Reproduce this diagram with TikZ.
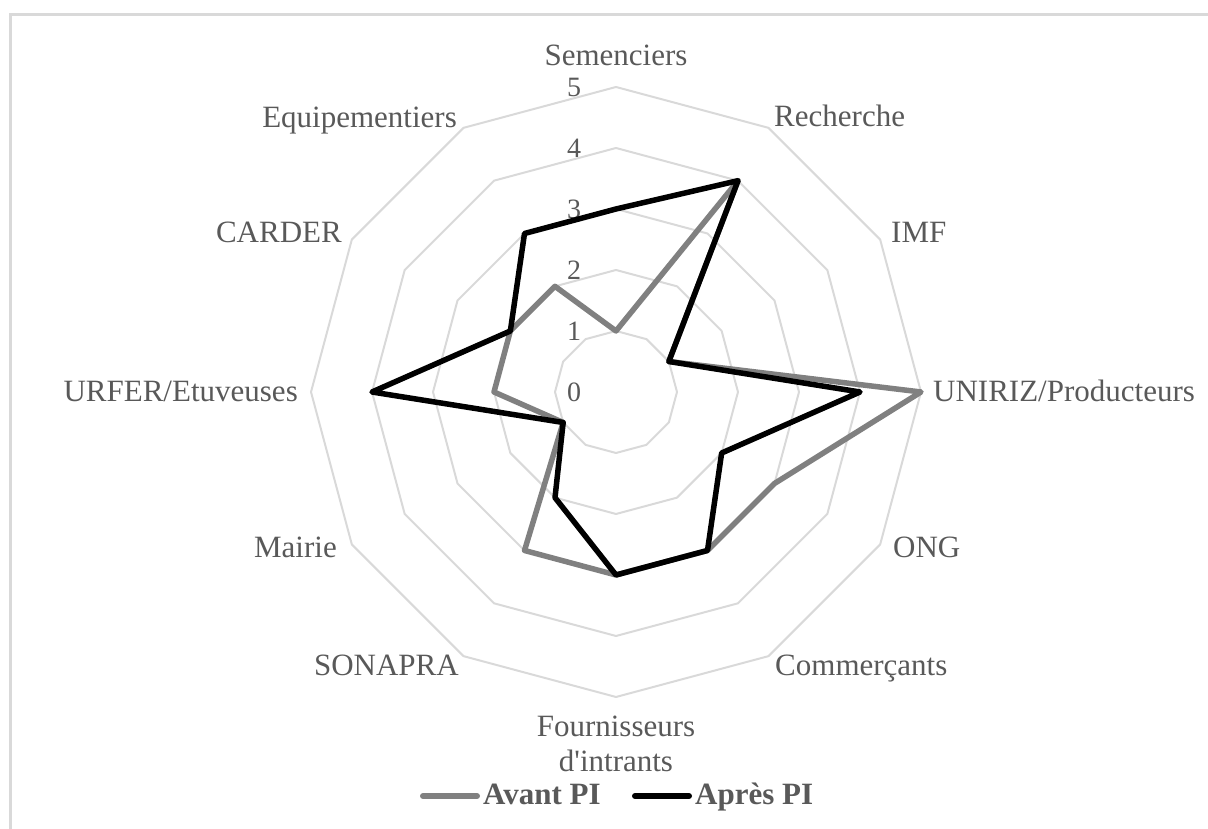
\documentclass[tikz,border=0pt]{standalone}
\usepackage{fontspec}
\newfontfamily\lab{Liberation Serif}
\definecolor{txt}{HTML}{595959}
\definecolor{gridc}{HTML}{D9D9D9}
\definecolor{avantc}{HTML}{808080}
\begin{document}
\begin{tikzpicture}[x=1pt,y=1pt,
  gridline/.style={draw=gridc,line width=2pt,line join=round},
  avant/.style={draw=avantc,line width=5.5pt,line join=round},
  apres/.style={draw=black,line width=5.5pt,line join=round},
  axlabel/.style={inner sep=0pt,text=txt,font=\lab\fontsize{31}{35}\selectfont},
  ticklabel/.style={inner sep=0pt,text=txt,font=\lab\fontsize{28}{30}\selectfont},
  legtext/.style={inner sep=0pt,text=txt,font=\lab\bfseries\fontsize{31}{35}\selectfont},
  legline/.style={line width=6pt,line cap=round}]
\useasboundingbox (0,0) rectangle (1208,829);
\clip (0,0) rectangle (1208,829);
% outer chart frame
\draw[gridc,line width=2.5pt] (10.5,814.5) rectangle (1240,-20);

\begin{scope}[shift={(616,437)}]
  % concentric dodecagon grid, one ring per unit
  \foreach \k in {1,...,5}
    \draw[gridline] (90:{\k*61})
      \foreach \a in {60,30,...,-240} { -- (\a:{\k*61}) } -- cycle;
  % scale values
  \foreach \k in {0,...,5}
    \node[ticklabel] (tick\k) at (-42,{\k*61}) {\k};
  % series points, clockwise from the top axis
  \foreach \v [count=\i] in {1,4,1,5,3,3,3,3,1,2,2,2}
    \coordinate (av\i) at ({90-30*(\i-1)}:{\v*61});
  \foreach \v [count=\i] in {3,4,1,4,2,3,3,2,1,4,2,3}
    \coordinate (ap\i) at ({90-30*(\i-1)}:{\v*61});
  \draw[avant] (av1) -- (av2) -- (av3) -- (av4) -- (av5) -- (av6) -- (av7)
    -- (av8) -- (av9) -- (av10) -- (av11) -- (av12) -- cycle;
  \draw[apres] (ap1) -- (ap2) -- (ap3) -- (ap4) -- (ap5) -- (ap6) -- (ap7)
    -- (ap8) -- (ap9) -- (ap10) -- (ap11) -- (ap12) -- cycle;
\end{scope}

% category labels
\node[axlabel,anchor=base] (sem) at (616,763) {Semenciers};
\node[axlabel,anchor=base west] (rech) at (774,702) {Recherche};
\node[axlabel,anchor=base west] (imf) at (891,586) {IMF};
\node[axlabel,anchor=base west] (uniriz) at (933,427) {UNIRIZ/Producteurs};
\node[axlabel,anchor=base west] (ong) at (893,271) {ONG};
\node[axlabel,anchor=base west] (comm) at (775,153) {Commerçants};
\node[axlabel,anchor=base] (fourn) at (616,92) {Fournisseurs};
\node[axlabel,anchor=base] (intr) at (616,57) {d'intrants};
\node[axlabel,anchor=base east] (sonapra) at (459,153) {SONAPRA};
\node[axlabel,anchor=base east] (mairie) at (337,271) {Mairie};
\node[axlabel,anchor=base east] (urfer) at (298,427) {URFER/Etuveuses};
\node[axlabel,anchor=base east] (carder) at (342,586) {CARDER};
\node[axlabel,anchor=base east] (equip) at (457,701) {Equipementiers};

% legend
\coordinate (lgA1) at (423,33);
\coordinate (lgA2) at (477,33);
\coordinate (lgB1) at (635,33);
\coordinate (lgB2) at (689,33);
\draw[legline,avantc] (lgA1) -- (lgA2);
\node[legtext,anchor=base west] (legavant) at (483,24) {Avant PI};
\draw[legline,black] (lgB1) -- (lgB2);
\node[legtext,anchor=base west] (legapres) at (695,24) {Après PI};
\end{tikzpicture}
\end{document}
